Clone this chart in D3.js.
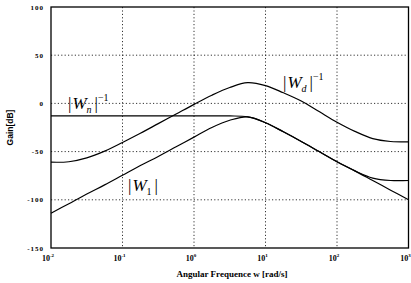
<!DOCTYPE html>
<html>
<head>
<meta charset="utf-8">
<script src="https://cdn.jsdelivr.net/npm/d3@7"></script>
<style>
  body { margin: 0; background: #fff; }
  svg { display: block; }
  text { font-family: "Liberation Serif", "DejaVu Serif", serif; fill: #000; }
</style>
</head>
<body>
<svg id="chart" width="411" height="283"></svg>
<script>
// log10(w) sample points
const logW = [-2, -1.75, -1.5, -1.25, -1, -0.75, -0.5, -0.25, 0, 0.25, 0.5, 0.75, 1, 1.25, 1.5, 1.75, 2, 2.25, 2.5, 2.75, 3];
const wdInv = [-61, -60.5, -56.5, -49.5, -40.5, -31, -21, -11, -1, 8.5, 16.5, 21.5, 18.5, 11, 2.5, -8.5, -19.5, -29, -36.5, -39.5, -40];
const w1    = [-114, -104, -94, -84.5, -74.5, -64.5, -55, -45, -35, -25, -17.5, -14, -20, -29.5, -39.5, -50, -60.5, -70, -80, -90, -100];
const wnInv = [-13, -13, -13, -13, -13, -13, -13, -13, -13, -13, -13, -14, -20, -29.5, -39.5, -50, -60.5, -70, -77.5, -80, -80];
const yTicks = [100, 50, 0, -50, -100, -150];
const xTickExp = [-2, -1, 0, 1, 2, 3];

const svg = d3.select('#chart');
const margin = {left: 51, top: 7, right: 2.5, bottom: 35};
const x = d3.scaleLog().domain([1e-2, 1e3]).range([margin.left, 411 - margin.right]);
const y = d3.scaleLinear().domain([-150, 100]).range([283 - margin.bottom, margin.top]);

// grid
const grid = svg.append('g').attr('stroke', '#000').attr('stroke-width', 0.8).attr('stroke-dasharray', '1.2,2.2');
grid.selectAll('.gx').data(xTickExp.slice(1, -1)).join('line')
  .attr('x1', d => x(10 ** d)).attr('x2', d => x(10 ** d))
  .attr('y1', y(100)).attr('y2', y(-150));
grid.selectAll('.gy').data(yTicks.slice(1, -1)).join('line')
  .attr('x1', x(1e-2)).attr('x2', x(1e3))
  .attr('y1', d => y(d)).attr('y2', d => y(d));

// frame
svg.append('rect')
  .attr('x', x(1e-2)).attr('y', y(100))
  .attr('width', x(1e3) - x(1e-2)).attr('height', y(-150) - y(100))
  .attr('fill', 'none').attr('stroke', '#000').attr('stroke-width', 1.3);

// y tick labels
svg.selectAll('.yl').data(yTicks).join('text')
  .attr('x', margin.left - 7).attr('y', d => y(d) + 2.5)
  .attr('text-anchor', 'end').style('font-size', '7px').style('font-weight', 'bold')
  .style('letter-spacing', '1px')
  .text(d => d);

// x tick labels
const xl = svg.selectAll('.xl').data(xTickExp).join('text')
  .attr('x', d => x(10 ** d) - 3).attr('y', 261)
  .attr('text-anchor', 'middle').style('font-size', '8px').style('font-weight', 'bold');
xl.append('tspan').text('10');
xl.append('tspan').attr('dy', -4).style('font-size', '5px').text(d => d);

// axis titles
svg.append('text').attr('x', 232).attr('y', 277).attr('text-anchor', 'middle')
  .style('font-size', '9px').style('font-weight', 'bold').text('Angular Frequence w [rad/s]');
svg.append('text').attr('transform', `translate(13,${(y(100) + y(-150)) / 2}) rotate(-90)`)
  .attr('text-anchor', 'middle').style('font-size', '8.5px').style('font-weight', 'bold')
  .style('font-family', 'Liberation Sans, Arial, sans-serif').text('Gain[dB]');

// curves
const line = d3.line().x(d => x(10 ** d[0])).y(d => y(d[1])).curve(d3.curveCatmullRom.alpha(0.5));
[wdInv, w1, wnInv].forEach(s => {
  svg.append('path').datum(logW.map((l, i) => [l, s[i]]))
    .attr('d', line).attr('fill', 'none').attr('stroke', '#000').attr('stroke-width', 1.2);
});

// labels on curves
function mag(px, py, sub, sup) {
  const t = svg.append('text').attr('x', px).attr('y', py).style('font-size', '17px');
  t.append('tspan').text('|');
  t.append('tspan').style('font-style', 'italic').attr('dx', 1).text('W');
  t.append('tspan').attr('dy', 4).style('font-size', '10px').style('font-style', sub === '1' ? 'normal' : 'italic').text(sub);
  t.append('tspan').attr('dy', -4).attr('dx', 3).text('|');
  if (sup) t.append('tspan').attr('dy', -8).style('font-size', '10px').text(sup);
}
mag(68, 109, 'n', '\u22121');
mag(283, 88, 'd', '\u22121');
mag(128, 191, '1', null);
</script>
</body>
</html>
